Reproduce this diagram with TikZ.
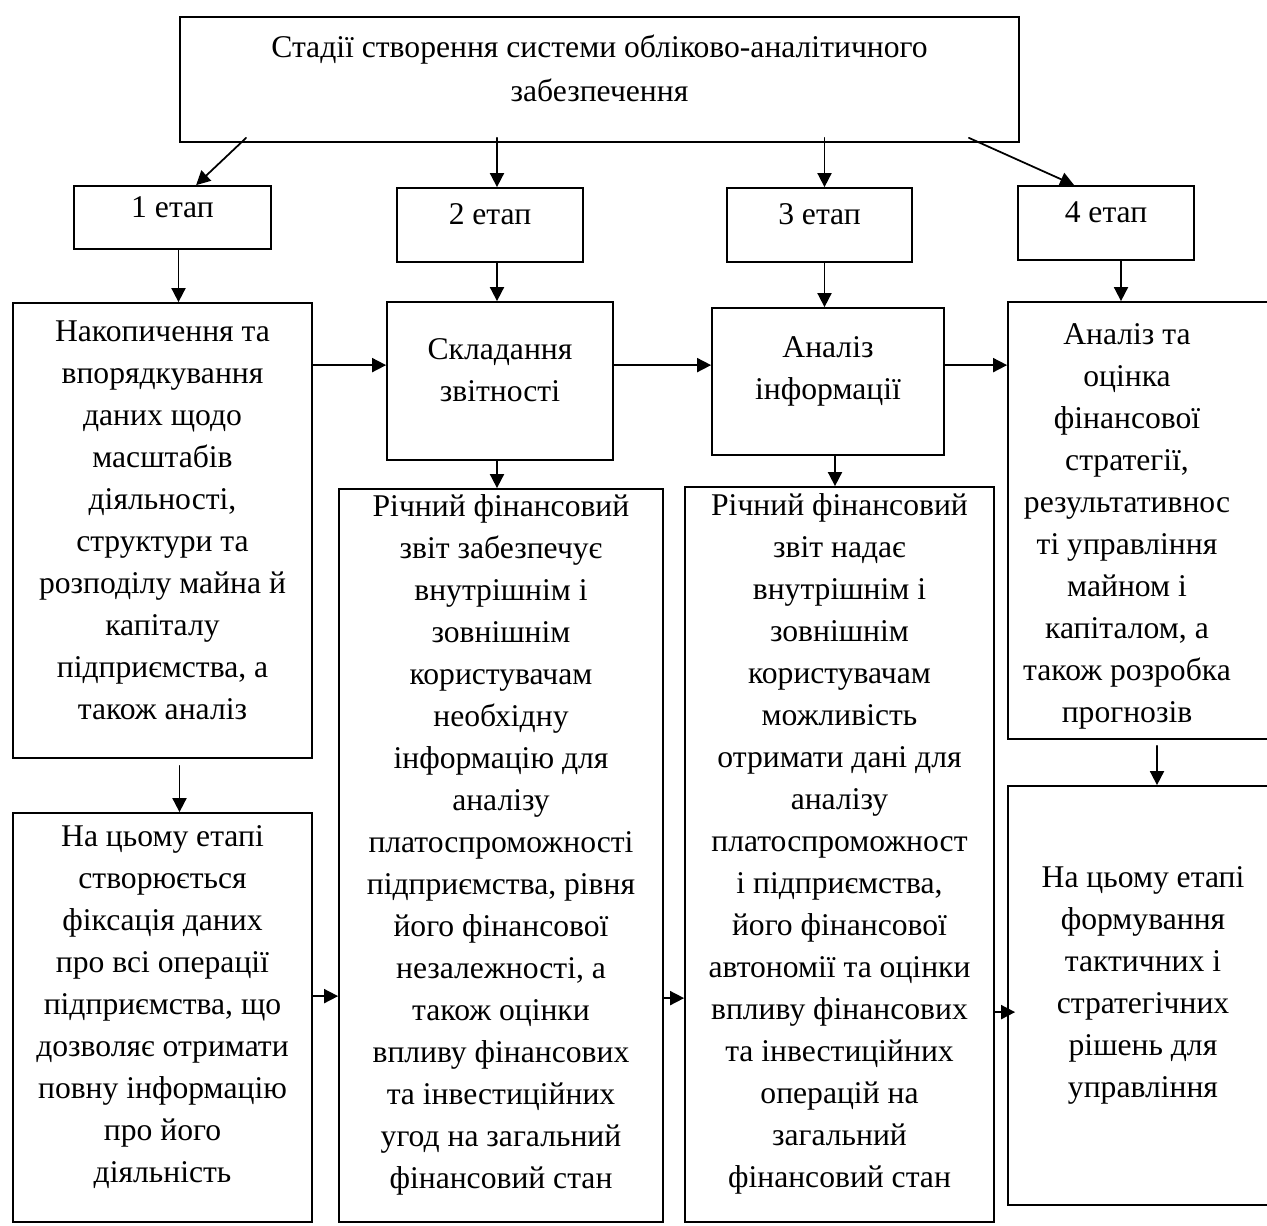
\documentclass[tikz,border=0pt]{standalone}
\usepackage{fontspec}
\setmainfont{Liberation Serif}
\usepackage{tikz}
\usetikzlibrary{arrows.meta,calc,fit}
\tikzset{
  >={Triangle[length=8pt,width=8pt]},
  every picture/.style={line cap=round,line join=round},
  box/.style={draw,line width=1pt,line join=miter,inner sep=0pt,align=center,
    font=\fontsize{18}{23.9}\selectfont},
  txt/.style={align=center,inner sep=0pt,font=\fontsize{18}{23.9}\selectfont},
  link/.style={->,line width=1pt},
}

\begin{document}
\begin{tikzpicture}[x=0.02cm,y=-0.02cm]
    \useasboundingbox (0,0) rectangle (1267,1226);
    % заголовок
    \node[box,font=\fontsize{18}{25}\selectfont,fit={(180,17) (1019,142)}] (title)
      {Стадії створення системи обліково-аналітичного\\забезпечення};
    % етапи
    \node[box,fit={(74,186) (271,249)}] (stageI) {1 етап};
    \node[box,fit={(397,188) (583,262)}] (stageII) {2 етап};
    \node[box,fit={(727,188) (912,262)}] (stageIII) {3 етап};
    \node[box,fit={(1018,186) (1194,260)}] (stageIV) {4 етап};
    % верхній ряд
    \node[box,fit={(13,303) (312,758)}] (nakop)
      {Накопичення та\\впорядкування\\даних щодо\\масштабів\\діяльності,\\структури та\\розподілу майна й\\капіталу\\підприємства, а\\також аналіз};
    \node[box,fit={(387,302) (613,460)}] (sklad) {Складання\\звітності};
    \node[box,fit={(712,308) (944,455)}] (analiz) {Аналіз\\інформації};
    \node[box,fit={(1008,302) (1290,739)}] (ocinka) {};
    \node[txt] (ocinkaT) at (1127,526)
      {Аналіз та\\оцінка\\фінансової\\стратегії,\\результативнос\\ті управління\\майном і\\капіталом, а\\також розробка\\прогнозів};
    % нижній ряд
    \node[box,fit={(13,813) (312,1222)}] (fiks)
      {На цьому етапі\\створюється\\фіксація даних\\про всі операції\\підприємства, що\\дозволяє отримати\\повну інформацію\\про його\\діяльність};
    \node[box,fit={(339,489) (663,1222)}] (richF)
      {Річний фінансовий\\звіт забезпечує\\внутрішнім і\\зовнішнім\\користувачам\\необхідну\\інформацію для\\аналізу\\платоспроможності\\підприємства, рівня\\його фінансової\\незалежності, а\\також оцінки\\впливу фінансових\\та інвестиційних\\угод на загальний\\фінансовий стан};
    \node[box,fit={(685,487) (994,1222)}] (richG)
      {Річний фінансовий\\звіт надає\\внутрішнім і\\зовнішнім\\користувачам\\можливість\\отримати дані для\\аналізу\\платоспроможност\\і підприємства,\\його фінансової\\автономії та оцінки\\впливу фінансових\\та інвестиційних\\операцій на\\загальний\\фінансовий стан};
    \node[box,fit={(1008,786) (1278,1205)}] (rishen)
      {На цьому етапі\\формування\\тактичних і\\стратегічних\\рішень для\\управління};
    % стрілки від заголовка
    \draw[link] ($(title.south west)+(67,-5)$) -- ($(stageI.north west)+(123,0)$);
    \draw[link] ($(stageII.north |- title.south)+(7,-5)$) -- ($(stageII.north)+(7,0)$);
    \draw[link] ($(stageIII.north |- title.south)+(5,-5)$) -- ($(stageIII.north)+(5,0)$);
    \draw[link] ($(title.south east)+(-51,-5)$) -- ($(stageIV.north west)+(57,0)$);
    % етап -> зміст
    \draw[link] ($(stageI.south)+(6,0)$) -- ($(stageI.south |- nakop.north)+(6,0)$);
    \draw[link] ($(stageII.south)+(7,0)$) -- ($(stageII.south |- sklad.north)+(7,0)$);
    \draw[link] ($(stageIII.south)+(5,0)$) -- ($(stageIII.south |- analiz.north)+(5,0)$);
    \draw[link] ($(stageIV.south)+(15,0)$) -- ($(stageIV.south |- ocinka.north)+(15,0)$);
    % горизонтальні зверху
    \coordinate (r1) at ($(sklad.north west)+(0,64)$);
    \coordinate (r2) at ($(analiz.north west)+(0,58)$);
    \coordinate (r3) at ($(ocinka.north west)+(0,64)$);
    \draw[link] (r1 -| nakop.east) -- (r1);
    \draw[link] (r2 -| sklad.east) -- (r2);
    \draw[link] (r3 -| analiz.east) -- (r3);
    % вниз
    \draw[link] ($(nakop.south)+(17,7)$) -- ($(nakop.south |- fiks.north)+(17,0)$);
    \draw[link] ($(sklad.south)+(-3,0)$) -- ($(sklad.south |- richF.north)+(-3,0)$);
    \draw[link] ($(analiz.south)+(7,0)$) -- ($(analiz.south |- richG.north)+(7,0)$);
    \draw[link] ($(ocinka.south)+(8,6)$) -- ($(ocinka.south |- rishen.north)+(8,0)$);
    % горизонтальні знизу
    \coordinate (s1) at ($(richF.north west)+(0,508)$);
    \coordinate (s2) at ($(richG.north west)+(0,512)$);
    \coordinate (s3) at ($(rishen.north west)+(8,227)$);
    \draw[link] (s1 -| fiks.east) -- (s1);
    \draw[link] (s2 -| richF.east) -- (s2);
    \draw[link] (s3 -| richG.east) -- (s3);
\end{tikzpicture}
\end{document}
